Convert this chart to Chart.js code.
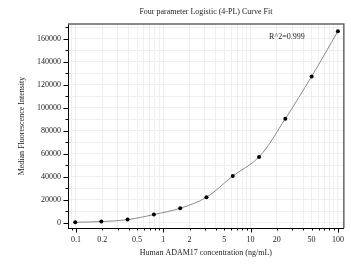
<!DOCTYPE html>
<html><head><meta charset="utf-8">
<script src="https://cdn.jsdelivr.net/npm/chart.js@4/dist/chart.umd.min.js"></script>
<style>html,body{margin:0;padding:0;background:#fff;overflow:hidden}</style>
</head><body>
<canvas id="c" width="351" height="264"></canvas>
<script>
const concentrations = [0.098, 0.195, 0.39, 0.78, 1.5625, 3.125, 6.25, 12.5, 25, 50, 100];
const mfi = [600, 1200, 2900, 7300, 12800, 22300, 40800, 57400, 90700, 127400, 166700];
const xTickLabels = [0.1, 0.2, 0.5, 1, 2, 5, 10, 20, 50, 100];
const yTickLabels = [0, 20000, 40000, 60000, 80000, 100000, 120000, 140000, 160000];
const yMinorStep = 10000;
const titleText = 'Four parameter Logistic (4-PL) Curve Fit';
const xTitleText = 'Human ADAM17 concentration (ng/mL)';
const yTitleText = 'Median Fluorescence Intensity';
const r2Text = 'R^2=0.999';

const FONT = '"Liberation Serif", "DejaVu Serif", serif';
const TXT = '#222';

function xMinorValues(min, max) {
  const out = [];
  for (let e = -2; e <= 3; e++) {
    for (let m = 1; m <= 9; m++) {
      const v = Number((m * Math.pow(10, e)).toPrecision(3));
      if (v >= min && v <= max) out.push(v);
    }
  }
  return out;
}
function yMinorValues(min, max) {
  const out = [];
  for (let v = 0; v <= max; v += yMinorStep) if (v >= min) out.push(v);
  return out;
}

const deco = {
  id: 'deco',
  afterDraw(chart) {
    const ctx = chart.ctx, a = chart.chartArea;
    const xs = chart.scales.x, ys = chart.scales.y;
    ctx.save();
    ctx.strokeStyle = '#666'; ctx.lineWidth = 1.5;
    ctx.beginPath();
    ctx.moveTo(a.left, a.top); ctx.lineTo(a.right, a.top); ctx.lineTo(a.right, a.bottom);
    ctx.stroke();
    ctx.strokeStyle = '#000'; ctx.lineWidth = 1;
    ctx.beginPath();
    xs.ticks.forEach(t => {
      const p = Math.round(xs.getPixelForValue(t.value)) + 0.5;
      const major = xTickLabels.includes(t.value) && Math.abs(Math.log10(t.value) % 1) < 1e-9;
      ctx.moveTo(p, a.bottom); ctx.lineTo(p, a.bottom + (major ? 4.5 : 2.5));
    });
    ys.ticks.forEach(t => {
      const p = Math.round(ys.getPixelForValue(t.value)) + 0.5;
      const major = yTickLabels.includes(t.value);
      ctx.moveTo(a.left, p); ctx.lineTo(a.left - (major ? 4.5 : 2.5), p);
    });
    ctx.stroke();
    ctx.fillStyle = TXT;
    ctx.textAlign = 'center'; ctx.textBaseline = 'middle';
    ctx.font = '8px ' + FONT;
    ctx.fillText(titleText, (a.left + a.right) / 2, 12);
    ctx.fillText(xTitleText, (a.left + a.right) / 2, 253);
    ctx.fillText(r2Text, a.right - 57, 37);
    ctx.translate(22, (a.top + a.bottom) / 2);
    ctx.rotate(-Math.PI / 2);
    ctx.fillText(yTitleText, 0, 0);
    ctx.restore();
  }
};

new Chart(document.getElementById('c'), {
  type: 'scatter',
  data: {
    datasets: [
      {
        data: concentrations.map((x, i) => ({x, y: mfi[i]})),
        showLine: true, borderColor: '#8a8a8a', borderWidth: 1,
        tension: 0.35, pointRadius: 0, order: 2
      },
      {
        data: concentrations.map((x, i) => ({x, y: mfi[i]})),
        showLine: false, pointRadius: 2, pointBackgroundColor: '#000',
        pointBorderWidth: 0, order: 1
      }
    ]
  },
  plugins: [deco],
  options: {
    responsive: false, animation: false, devicePixelRatio: 1,
    layout: {padding: {top: 24, right: 5, left: 0, bottom: 0}},
    plugins: {legend: {display: false}, tooltip: {enabled: false}, title: {display: false}},
    scales: {
      x: {
        type: 'logarithmic', min: 0.081, max: 117,
        afterBuildTicks(s) { s.ticks = xMinorValues(s.min, s.max).map(v => ({value: v})); },
        afterFit(s) { s.height = 36; },
        ticks: {
          autoSkip: false, maxRotation: 0, padding: 7, color: TXT,
          font: {family: FONT, size: 8},
          callback(v) { return xTickLabels.includes(v) ? String(v) : ''; }
        },
        grid: {color: '#efefef', lineWidth: 1, drawTicks: false},
        border: {display: true, color: '#000', width: 1}
      },
      y: {
        type: 'linear', min: -4400, max: 173000,
        afterBuildTicks(s) { s.ticks = yMinorValues(s.min, s.max).map(v => ({value: v})); },
        afterFit(s) { s.width = 68; },
        ticks: {
          autoSkip: false, padding: 7, color: TXT,
          font: {family: FONT, size: 8},
          callback(v) { return yTickLabels.includes(v) ? String(v) : ''; }
        },
        grid: {color: '#efefef', lineWidth: 1, drawTicks: false},
        border: {display: true, color: '#000', width: 1}
      }
    }
  }
});
</script>
</body></html>
